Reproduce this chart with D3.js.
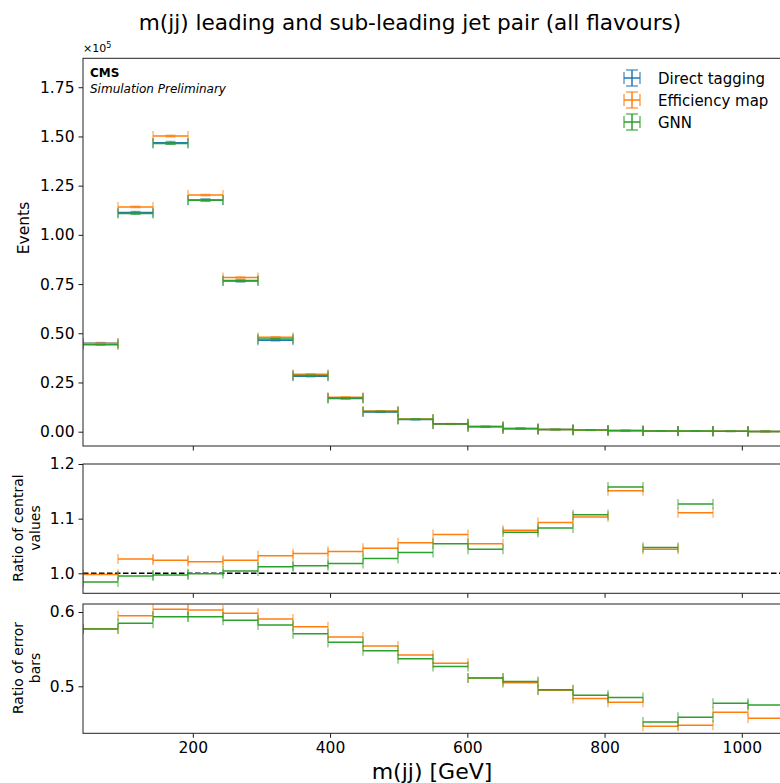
<!DOCTYPE html>
<html>
<head>
<meta charset="utf-8">
<script src="https://cdn.jsdelivr.net/npm/d3@7"></script>
<style>
  body { margin: 0; background: #fff; }
  svg text { font-family: "DejaVu Sans", sans-serif; fill: #000; }
</style>
</head>
<body>
<div id="chart"></div>
<script>
// bin edges of m(jj) in GeV
var binEdges = [40, 91, 142, 193, 244, 295, 346, 397, 448, 499, 550, 601, 652, 703, 754, 805, 856, 907, 958, 1009, 1060]

// events per bin, in units of 1e5
var directTagging = [0.449, 1.113, 1.468, 1.177, 0.765, 0.465, 0.282, 0.168, 0.100, 0.0615, 0.038, 0.025, 0.0155, 0.0105, 0.0072, 0.0050, 0.0037, 0.0026, 0.0018, 0.0013]
var efficiencyMap = [0.448, 1.142, 1.502, 1.202, 0.783, 0.480, 0.292, 0.175, 0.1046, 0.065, 0.0407, 0.0264, 0.0167, 0.0115, 0.0079, 0.0058, 0.0039, 0.0029, 0.0020, 0.0014]
var gnn = [0.442, 1.108, 1.464, 1.176, 0.768, 0.471, 0.286, 0.171, 0.1027, 0.0638, 0.040, 0.0261, 0.0167, 0.0114, 0.0080, 0.0058, 0.0039, 0.0029, 0.0019, 0.0014]
var directErr = [0.0035, 0.0055, 0.0062, 0.0056, 0.0045, 0.0035, 0.0027, 0.0021, 0.0016, 0.0013, 0.0010, 0.0008, 0.0007, 0.0006, 0.0005, 0.0004, 0.0004, 0.0003, 0.0003, 0.0002]

// ratio of central values (to direct tagging)
var ratioEff = [0.998, 1.026, 1.024, 1.021, 1.024, 1.032, 1.036, 1.040, 1.046, 1.056, 1.071, 1.054, 1.079, 1.093, 1.103, 1.151, 1.044, 1.111, null, null]
var ratioGnn = [0.984, 0.995, 0.997, 0.999, 1.004, 1.012, 1.014, 1.018, 1.027, 1.038, 1.054, 1.044, 1.075, 1.083, 1.107, 1.158, 1.047, 1.127, null, null]

// ratio of error bars (to direct tagging)
var errRatioEff = [0.5776, 0.595, 0.6036, 0.6027, 0.5982, 0.5906, 0.5803, 0.5664, 0.5543, 0.5422, 0.5309, 0.5112, 0.5049, 0.4946, 0.4834, 0.4785, 0.4462, 0.4475, 0.465, 0.457]
var errRatioGnn = [0.5772, 0.5848, 0.5937, 0.5937, 0.5888, 0.5825, 0.5709, 0.5592, 0.548, 0.5372, 0.5265, 0.5112, 0.5063, 0.4955, 0.4879, 0.4848, 0.452, 0.4583, 0.4771, 0.4749]

var seriesNames = ["Direct tagging", "Efficiency map", "GNN"]
var colors = ["#1f77b4", "#ff7f0e", "#2ca02c"]

var xTicks = [200, 400, 600, 800, 1000]
var topTicks = [0, 0.25, 0.5, 0.75, 1.0, 1.25, 1.5, 1.75]
var midTicks = [1.0, 1.1, 1.2]
var botTicks = [0.5, 0.6]

var W = 780, H = 783

var svg = d3.select("#chart").append("svg")
    .attr("width", W).attr("height", H)

var x = d3.scaleLinear().domain([40, 1060]).range([83, 783])

var yTop = d3.scaleLinear().domain([-0.0727, 1.897]).range([446, 58.3])
var yMid = d3.scaleLinear().domain([0.9634, 1.2]).range([593.3, 464])
var yBot = d3.scaleLinear().domain([0.4367, 0.6108]).range([733.3, 604])

var bins = binEdges.slice(0, -1).map(function(lo, i){ return [lo, binEdges[i+1]] })

function drawPanel(y, ticks, fmt, showXLabels){
    var g = svg.append("g")
    var r = y.range()
    g.append("g")
        .attr("transform", "translate(0," + r[0] + ")")
        .call(d3.axisBottom(x).tickValues(xTicks).tickSize(4.5).tickPadding(4)
              .tickFormat(showXLabels ? d3.format("d") : ""))
        .call(function(a){ a.select(".domain").remove() })
    g.append("g")
        .attr("transform", "translate(83,0)")
        .call(d3.axisLeft(y).tickValues(ticks).tickSize(4.5).tickPadding(4).tickFormat(fmt))
        .call(function(a){ a.select(".domain").remove() })
    g.selectAll(".tick text").style("font-size", "15.5px").attr("font-family", "DejaVu Sans")
    g.selectAll(".tick line").attr("stroke", "#000").attr("stroke-width", 0.9)
    var cid = "clip" + Math.round(r[1])
    svg.append("clipPath").attr("id", cid).append("rect")
        .attr("x", 83).attr("y", r[1]).attr("width", 700).attr("height", r[0] - r[1])
    var body = svg.append("g").attr("clip-path", "url(#" + cid + ")")
    svg.append("rect")
        .attr("x", 83).attr("y", r[1]).attr("width", 700).attr("height", r[0] - r[1])
        .attr("fill", "none").attr("stroke", "#222").attr("stroke-width", 1)
    return body
}

function drawSeries(body, y, vals, errs, color){
    var cap = 5
    var sel = body.append("g").selectAll("g")
        .data(bins.map(function(b, i){ return {lo: b[0], hi: b[1], v: vals[i], e: errs ? errs[i] : 0} })
              .filter(function(d){ return d.v != null }))
        .enter().append("g")
    // caps on bin edges
    sel.append("line")
        .attr("x1", function(d){ return x(d.lo) }).attr("x2", function(d){ return x(d.lo) })
        .attr("y1", function(d){ return y(d.v) - cap }).attr("y2", function(d){ return y(d.v) + cap })
        .attr("stroke", color).attr("stroke-width", 1.5).attr("opacity", 0.55)
    sel.append("line")
        .attr("x1", function(d){ return x(d.hi) }).attr("x2", function(d){ return x(d.hi) })
        .attr("y1", function(d){ return y(d.v) - cap }).attr("y2", function(d){ return y(d.v) + cap })
        .attr("stroke", color).attr("stroke-width", 1.5).attr("opacity", 0.55)
    if (errs) {
        // vertical error bar and its caps
        var xc = function(d){ return x((d.lo + d.hi) / 2) }
        sel.append("line")
            .attr("x1", xc).attr("x2", xc)
            .attr("y1", function(d){ return y(d.v - d.e) }).attr("y2", function(d){ return y(d.v + d.e) })
            .attr("stroke", color).attr("stroke-width", 1.5)
        ;[-1, 1].forEach(function(s){
            sel.append("line")
                .attr("x1", function(d){ return xc(d) - cap }).attr("x2", function(d){ return xc(d) + cap })
                .attr("y1", function(d){ return y(d.v + s * d.e) }).attr("y2", function(d){ return y(d.v + s * d.e) })
                .attr("stroke", color).attr("stroke-width", 1.5).attr("opacity", 0.6)
        })
    }
    // horizontal bar across the bin
    sel.append("line")
        .attr("x1", function(d){ return x(d.lo) }).attr("x2", function(d){ return x(d.hi) })
        .attr("y1", function(d){ return y(d.v) }).attr("y2", function(d){ return y(d.v) })
        .attr("stroke", color).attr("stroke-width", 1.5)
}

// top panel
var topBody = drawPanel(yTop, topTicks, d3.format(".2f"), false)
var effErr = directErr.map(function(e, i){ return e * errRatioEff[i] })
var gnnErr = directErr.map(function(e, i){ return e * errRatioGnn[i] })
drawSeries(topBody, yTop, directTagging, directErr, colors[0])
drawSeries(topBody, yTop, efficiencyMap, effErr, colors[1])
drawSeries(topBody, yTop, gnn, gnnErr, colors[2])

// ratio of central values
var midBody = drawPanel(yMid, midTicks, d3.format(".1f"), false)
midBody.append("line")
    .attr("x1", 83).attr("x2", 783).attr("y1", yMid(1)).attr("y2", yMid(1))
    .attr("stroke", "#000").attr("stroke-width", 1.5).attr("stroke-dasharray", "5.5,2.5")
drawSeries(midBody, yMid, ratioEff, null, colors[1])
drawSeries(midBody, yMid, ratioGnn, null, colors[2])

// ratio of error bars
var botBody = drawPanel(yBot, botTicks, d3.format(".1f"), true)
drawSeries(botBody, yBot, errRatioEff, null, colors[1])
drawSeries(botBody, yBot, errRatioGnn, null, colors[2])

// texts
svg.append("text").attr("x", 410).attr("y", 30).attr("text-anchor", "middle")
    .style("font-size", "21.6px").text("m(jj) leading and sub-leading jet pair (all flavours)")
var mult = svg.append("text").attr("x", 83).attr("y", 52).style("font-size", "11px")
mult.append("tspan").text("×10")
mult.append("tspan").attr("dy", -4).style("font-size", "8px").text("5")

svg.append("text").attr("x", 90).attr("y", 77).style("font-size", "12px").style("font-weight", "bold").text("CMS")
svg.append("text").attr("x", 90).attr("y", 93).style("font-size", "12px").style("font-style", "italic").text("Simulation Preliminary")

svg.append("text").attr("transform", "translate(29,228) rotate(-90)").attr("text-anchor", "middle")
    .style("font-size", "15.5px").text("Events")
var lab1 = svg.append("text").attr("transform", "translate(23,528) rotate(-90)").attr("text-anchor", "middle").style("font-size", "14px")
lab1.append("tspan").attr("x", 0).attr("dy", 0).text("Ratio of central")
lab1.append("tspan").attr("x", 0).attr("dy", 17).text("values")
var lab2 = svg.append("text").attr("transform", "translate(23,668) rotate(-90)").attr("text-anchor", "middle").style("font-size", "14px")
lab2.append("tspan").attr("x", 0).attr("dy", 0).text("Ratio of error")
lab2.append("tspan").attr("x", 0).attr("dy", 17).text("bars")

svg.append("text").attr("x", 432).attr("y", 779).attr("text-anchor", "middle")
    .style("font-size", "22px").text("m(jj) [GeV]")

// legend
var leg = svg.append("g").selectAll("g").data(seriesNames).enter().append("g")
    .attr("transform", function(d, i){ return "translate(632," + (78 + i * 22) + ")" })
leg.each(function(d, i){
    var g = d3.select(this), c = colors[i]
    g.append("line").attr("x1", -8).attr("x2", 8).attr("y1", 0).attr("y2", 0).attr("stroke", c).attr("stroke-width", 1.5)
    g.append("line").attr("x1", 0).attr("x2", 0).attr("y1", -8).attr("y2", 8).attr("stroke", c).attr("stroke-width", 1.5)
    ;[-8, 8].forEach(function(o){
        g.append("line").attr("x1", o).attr("x2", o).attr("y1", -6).attr("y2", 6).attr("stroke", c).attr("stroke-width", 1.5).attr("opacity", 0.7)
        g.append("line").attr("x1", -6).attr("x2", 6).attr("y1", o).attr("y2", o).attr("stroke", c).attr("stroke-width", 1.5).attr("opacity", 0.7)
    })
    g.append("text").attr("x", 26).attr("y", 5.5).style("font-size", "15px").text(d)
})
</script>
</body>
</html>
